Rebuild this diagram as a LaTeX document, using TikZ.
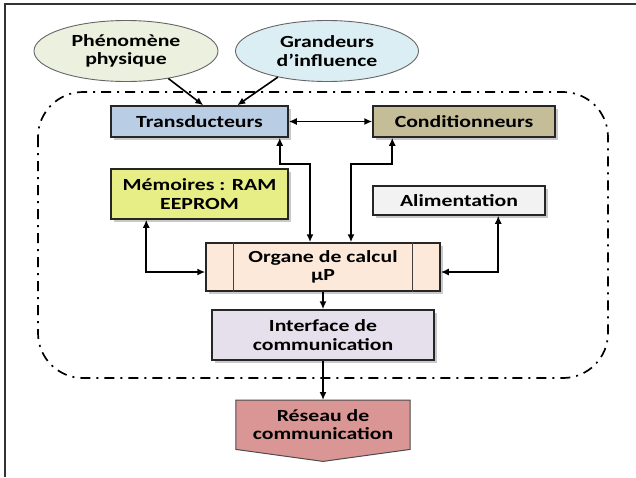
\documentclass[tikz,border=0pt]{standalone}
\usepackage{fontspec}
\setmainfont{Carlito}[FakeStretch=1.28]
\usetikzlibrary{calc,shapes.geometric,shadows,arrows.meta}
\definecolor{ctrans}{HTML}{B9CDE5}
\definecolor{ccond}{HTML}{C4BD97}
\definecolor{cmem}{HTML}{E8EE86}
\definecolor{calim}{HTML}{F2F2F2}
\definecolor{corg}{HTML}{FDE9D9}
\definecolor{cint}{HTML}{E5E0EC}
\definecolor{cres}{HTML}{D99694}
\definecolor{cphen}{HTML}{EBF1DE}
\definecolor{cgrand}{HTML}{DBEEF4}
\tikzset{
  lbl/.style={font=\bfseries\fontsize{17}{18.5}\selectfont, align=center, text=black},
  boxnode/.style={lbl, draw=black!85, line width=1.5pt, inner sep=0pt,
     drop shadow={shadow xshift=2.5pt, shadow yshift=-2.5pt, fill=black!35, opacity=0.6}},
  ellnode/.style={lbl, ellipse, draw=black!60, line width=0.9pt, inner sep=0pt},
  arr/.style={line width=1.6pt, -{Latex[length=8pt,width=7pt]}},
  darr/.style={line width=1.6pt, {Latex[length=8pt,width=7pt]}-{Latex[length=8pt,width=7pt]}},
  dashdotline/.style={line width=1.7pt, dash pattern=on 10pt off 6pt on 2pt off 6pt},
}
\begin{document}
\begin{tikzpicture}[x=1pt,y=-1pt]
\useasboundingbox (0,0) rectangle (636,477);
\fill[white] (0,0) rectangle (636,477);
% frame
\draw[line width=1.6pt, black!80] (5,477) -- (5,4) -- (636,4);
% dash-dot region
\draw[dashdotline, rounded corners=45pt] (38,92) rectangle (608,378);
% ellipses
\node[ellnode, fill=cphen, minimum width=184pt, minimum height=61pt] (phen) at (126,51) {Phénomène\\physique};
\node[ellnode, fill=cgrand, minimum width=183pt, minimum height=61pt] (grand) at (327,51) {Grandeurs\\d’influence};
% boxes
\node[boxnode, fill=ctrans, minimum width=177pt, minimum height=31pt] (trans) at (199.5,121.5) {Transducteurs};
\node[boxnode, fill=ccond, minimum width=182pt, minimum height=31pt] (cond) at (464,121.5) {Conditionneurs};
\node[boxnode, fill=cmem, minimum width=177pt, minimum height=50pt] (mem) at (199.5,194) {Mémoires : RAM\\EEPROM};
\node[boxnode, fill=calim, minimum width=172pt, minimum height=29pt] (alim) at (459,200.5) {Alimentation};
\node[boxnode, fill=corg, minimum width=234pt, minimum height=48pt] (organe) at (323,267) {Organe de calcul\\µP};
\draw[line width=1pt, black!75] ($(organe.north west)+(28,0)$) -- ($(organe.south west)+(28,0)$);
\draw[line width=1pt, black!75] ($(organe.north east)+(-28,0)$) -- ($(organe.south east)+(-28,0)$);
\node[boxnode, fill=cint, minimum width=222pt, minimum height=50pt] (inter) at (323,335) {Interface de\\communication};
% reseau (pointed box)
\node[lbl, inner sep=0pt, minimum width=174pt, minimum height=49pt, anchor=north] (reseau) at (323,400) {};
\fill[black!35, opacity=0.6, shift={(2.5,2.5)}] (reseau.north west) -- (reseau.north east) -- (reseau.south east) -- ($(reseau.south)+(0,12)$) -- (reseau.south west) -- cycle;
\draw[line width=1pt, draw=black!70, fill=cres] (reseau.north west) -- (reseau.north east) -- (reseau.south east) -- ($(reseau.south)+(0,12)$) -- (reseau.south west) -- cycle;
\node[lbl] at (reseau.center) {Réseau de\\communication};
% connectors
\draw[arr] (phen.-33) -- ($(trans.north west)+(93,0)$);
\draw[arr] (grand.-152) -- ($(trans.north west)+(127,0)$);
\draw[darr] (trans.east) -- (cond.west);
\coordinate (j1) at (310,164);
\coordinate (j2) at (351,164);
\draw[darr] ($(trans.south east)+(-9,0)$) |- (j1) -- (j1 |- organe.north);
\draw[darr] ($(cond.south west)+(20,0)$) |- (j2) -- (j2 |- organe.north);
\draw[darr] ($(mem.south west)+(36,0)$) |- ($(organe.west)+(0,5)$);
\draw[darr] ($(alim.south west)+(126,0)$) |- ($(organe.east)+(0,5)$);
\draw[arr] (organe.south) -- (inter.north);
\draw[arr] (inter.south) -- (reseau.north);
\end{tikzpicture}
\end{document}
